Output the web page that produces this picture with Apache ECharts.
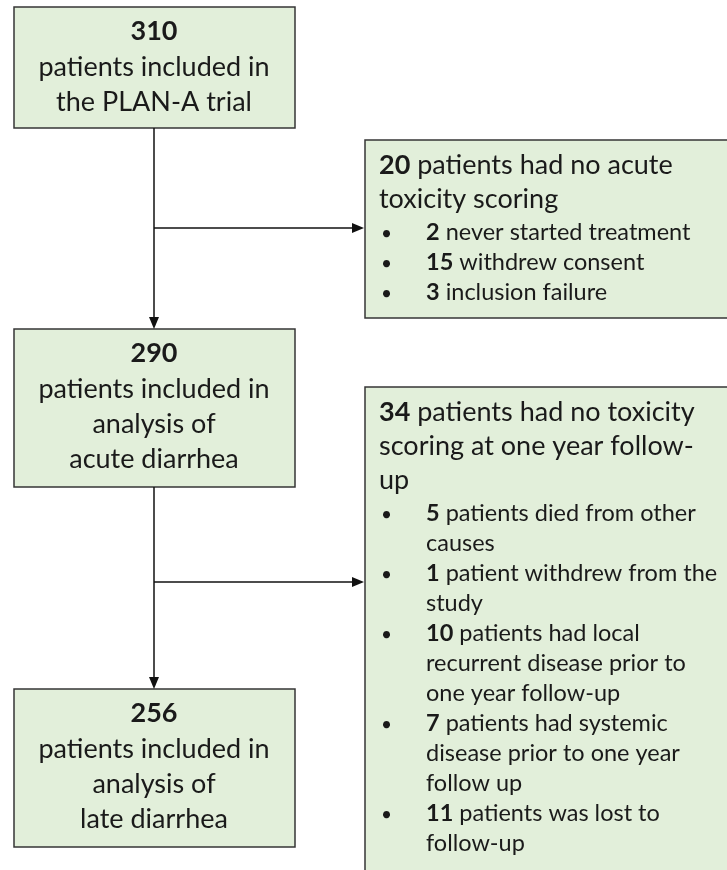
<!DOCTYPE html>
<html>
  <head>
    <meta charset="UTF-8">
    <title>PLAN-A flowchart</title>
    <script src="https://cdn.jsdelivr.net/npm/echarts@6/dist/echarts.min.js"></script>
    <style>
      html, body { margin: 0; padding: 0; background: #fff; }
    </style>
  </head>
  <body>
    <div id="myChart" style="width: 727px;height:870px;"></div>
    <script type="text/javascript">
      // numbers of patients in the main column
      var mainCounts = [310, 290, 256];
      var mainLabels = [
        ['patients included in', 'the PLAN-A trial'],
        ['patients included in', 'analysis of', 'acute diarrhea'],
        ['patients included in', 'analysis of', 'late diarrhea']
      ];
      // excluded patients, one box per step
      var exclCounts = [20, 34];
      var exclHeads = [
        ['patients had no acute', 'toxicity scoring'],
        ['patients had no toxicity', 'scoring at one year follow-', 'up']
      ];
      var reasonCounts = [
        [2, 15, 3],
        [5, 1, 10, 7, 11]
      ];
      var reasonTexts = [
        [['never started treatment'], ['withdrew consent'], ['inclusion failure']],
        [
          ['patients died from other', 'causes'],
          ['patient withdrew from the', 'study'],
          ['patients had local', 'recurrent disease prior to', 'one year follow-up'],
          ['patients had systemic', 'disease prior to one year', 'follow up'],
          ['patients was lost to', 'follow-up']
        ]
      ];

      var FONT = 'Lato';
      var INK = '#1a1a1a';
      var FILL = '#e2efda';
      var EDGE = '#363636';
      var BIG = 27;
      var SMALL = 23.5;

      var myChart = echarts.init(document.getElementById('myChart'), null, {renderer: 'canvas'});

      // text line placed by its baseline
      function line(x, base, str, size, align) {
        return {
          type: 'text',
          x: x,
          y: base - size * 0.37,
          style: {
            text: str,
            fontFamily: FONT,
            fontSize: size,
            fill: INK,
            align: align,
            verticalAlign: 'middle',
            rich: {
              b: {fontFamily: FONT, fontSize: size, fontWeight: 'bold', fill: INK}
            }
          }
        };
      }

      var els = [];

      // main column boxes
      var mainTops = [7, 329, 689];
      var mainHeights = [121, 158, 158];
      mainCounts.forEach(function (n, i) {
        var top = mainTops[i];
        els.push({type: 'rect', shape: {x: 14, y: top, width: 281, height: mainHeights[i]},
          style: {fill: FILL, stroke: EDGE, lineWidth: 1.5}});
        els.push(line(154, top + 34, '{b|' + n + '}', BIG, 'center'));
        mainLabels[i].forEach(function (s, j) {
          els.push(line(154, top + 70 + j * 35, s, BIG, 'center'));
        });
      });

      // side boxes
      var sideTops = [140, 387];
      var sideHeights = [178, 520];
      exclCounts.forEach(function (n, i) {
        var top = sideTops[i];
        els.push({type: 'rect', shape: {x: 365, y: top, width: 380, height: sideHeights[i]},
          style: {fill: FILL, stroke: EDGE, lineWidth: 1.5}});
        var base = top + 35;
        exclHeads[i].forEach(function (s, j) {
          var str = j === 0 ? '{b|' + n + '} ' + s : s;
          els.push(line(379, base, str, BIG, 'left'));
          base += 34;
        });
        base -= 2;
        reasonCounts[i].forEach(function (c, k) {
          els.push(line(381, base, '•', 19, 'left'));
          reasonTexts[i][k].forEach(function (s, j) {
            var str = j === 0 ? '{b|' + c + '} ' + s : s;
            els.push(line(426, base, str, SMALL, 'left'));
            base += 30;
          });
        });
      });

      // connectors
      var LINE = {stroke: '#111', lineWidth: 1.5};
      els.push({type: 'line', shape: {x1: 154, y1: 128, x2: 154, y2: 318}, style: LINE});
      els.push({type: 'polygon', shape: {points: [[149, 317], [159, 317], [154, 329]]}, style: {fill: '#111'}});
      els.push({type: 'line', shape: {x1: 154, y1: 487, x2: 154, y2: 678}, style: LINE});
      els.push({type: 'polygon', shape: {points: [[149, 677], [159, 677], [154, 689]]}, style: {fill: '#111'}});
      [228, 582].forEach(function (y) {
        els.push({type: 'line', shape: {x1: 154, y1: y, x2: 354, y2: y}, style: LINE});
        els.push({type: 'polygon', shape: {points: [[352, y - 5], [352, y + 5], [364, y]]}, style: {fill: '#111'}});
      });

      var option = {
        backgroundColor: '#fff',
        animation: false,
        graphic: {elements: els}
      };
      myChart.setOption(option);
    </script>
  </body>
</html>
